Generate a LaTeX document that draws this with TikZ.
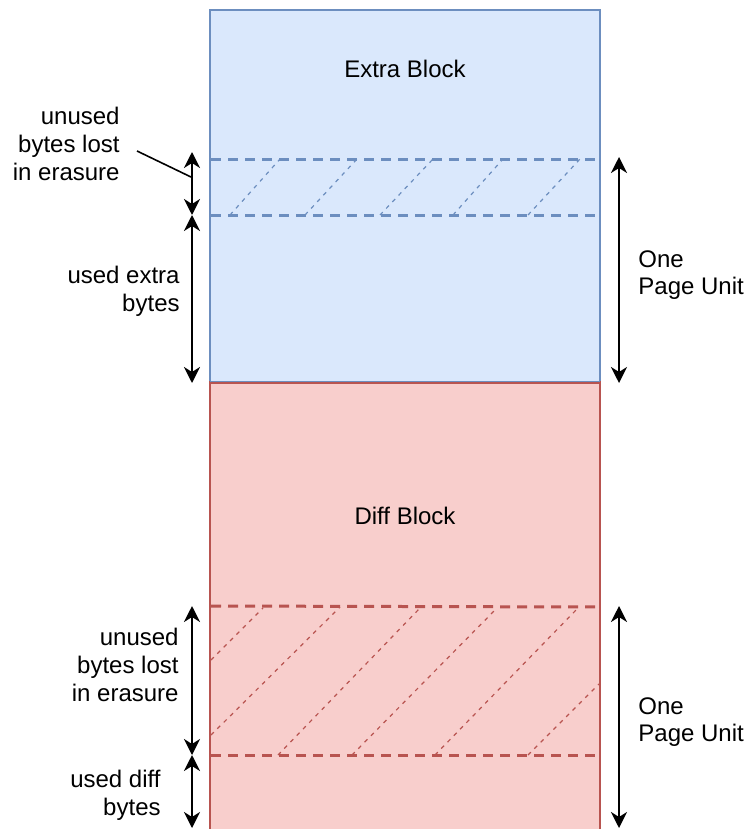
\documentclass[tikz,border=0pt]{standalone}
\usepackage{fontspec}
\setmainfont{Liberation Sans}
\usetikzlibrary{arrows.meta}

\definecolor{extraFill}{HTML}{DAE8FC}
\definecolor{extraLine}{HTML}{6C8EBF}
\definecolor{diffFill}{HTML}{F8CECC}
\definecolor{diffLine}{HTML}{B85450}

\tikzset{
  label text/.style={font=\fontsize{12}{13.8}\selectfont, inner sep=0pt, align=center},
  left text/.style={font=\fontsize{12}{13.8}\selectfont, inner sep=0pt, align=right, anchor=east},
  side text/.style={font=\fontsize{12}{13.8}\selectfont, inner sep=0pt, align=left, anchor=west},
  block/.style={line width=1pt},
  bound line/.style={line width=1.5pt, dash pattern=on 5pt off 3.5pt},
  hatch line/.style={line width=0.6pt, dash pattern=on 2pt off 2.5pt},
  span arrow/.style={line width=1.1pt, {Stealth[length=8pt,width=8pt,inset=2.5pt]}-{Stealth[length=8pt,width=8pt,inset=2.5pt]}},
  pointer/.style={line width=0.8pt}
}

\begin{document}
\begin{tikzpicture}[x=0.5pt,y=-0.5pt]
  \clip (0,0) rectangle (746,829);

  % the two blocks
  \path[block, fill=extraFill, draw=extraLine] (210,10) rectangle (600,382);
  \path[block, fill=diffFill, draw=diffLine] (210,382) rectangle (600,840);
  \draw[block, draw=extraLine] (210,382) -- (600,382);
  \draw[block, draw=diffLine] (210,383) -- (600,383);

  \node[label text] (extra) at (405,69) {Extra Block};
  \node[label text] (diff) at (405,516) {Diff Block};

  % lost region inside the extra block
  \draw[bound line, extraLine] (211,159) -- (599,159);
  \draw[bound line, extraLine] (211,215) -- (599,215);
  \foreach \a/\b in {230/280, 305/357, 380/433, 453/503, 528/580}
    \draw[hatch line, extraLine] (\a,215) -- (\b,159);

  % lost region inside the diff block
  \draw[bound line, diffLine] (211,606) -- (599,607);
  \draw[bound line, diffLine] (211,755) -- (599,755);
  \draw[hatch line, diffLine] (211,660) -- (263,608);
  \draw[hatch line, diffLine] (211,735) -- (340,607);
  \draw[hatch line, diffLine] (278,755) -- (420,608);
  \draw[hatch line, diffLine] (352,755) -- (497,608);
  \draw[hatch line, diffLine] (435,755) -- (578,608);
  \draw[hatch line, diffLine] (528,755) -- (599,684);

  % measuring points
  \coordinate (eLostTop) at (192,152);
  \coordinate (eLostBot) at (192,215);
  \coordinate (eUsedBot) at (192,383);
  \coordinate (ePageTop) at (619,157);
  \coordinate (ePageBot) at (619,383);
  \coordinate (dLostTop) at (192,606);
  \coordinate (dLostBot) at (192,755);
  \coordinate (dUsedBot) at (192,828);
  \coordinate (dPageTop) at (619,606);
  \coordinate (dPageBot) at (619,828);
  \coordinate (eLostMid) at (191,177);

  % extent arrows
  \draw[span arrow] (eLostTop) -- (eLostBot);
  \draw[span arrow] (eLostBot) -- (eUsedBot);
  \draw[span arrow] (ePageTop) -- (ePageBot);
  \draw[span arrow] (dLostTop) -- (dLostBot);
  \draw[span arrow] (dLostBot) -- (dUsedBot);
  \draw[span arrow] (dPageTop) -- (dPageBot);

  % labels
  \node[left text] (eLost) at (120,144) {unused\\bytes lost\\in erasure};
  \draw[pointer] (137,151) -- (eLostMid);
  \node[left text] (eUsed) at (180,291) {used extra\\bytes};
  \node[side text] (ePage) at (638,275) {One\\Page Unit};

  \node[left text] (dLost) at (179,665) {unused\\bytes lost\\in erasure};
  \node[left text] (dUsed) at (161,795) {used diff\\bytes};
  \node[side text] (dPage) at (638,722) {One\\Page Unit};
\end{tikzpicture}
\end{document}
